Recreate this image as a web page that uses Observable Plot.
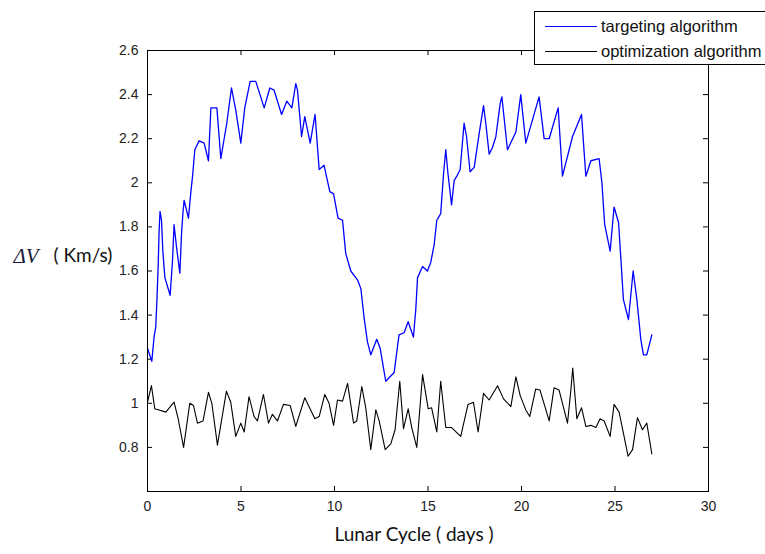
<!DOCTYPE html>
<html>
<head>
<meta charset="utf-8">
<script src="https://cdn.jsdelivr.net/npm/d3@7"></script>
<script src="https://cdn.jsdelivr.net/npm/@observablehq/plot@0.6"></script>
<style>
  html, body { margin: 0; padding: 0; overflow: hidden; background: #fff; }
  #wrap { position: relative; width: 765px; height: 554px; }
  #legend { position: absolute; left: 534px; top: 11px; width: 240px; height: 52px;
            border: 1px solid #000; background: #fff; font-family: "Liberation Sans", Arial, sans-serif;
            font-size: 16.5px; color: #111; }
  .row { position: absolute; left: 10px; height: 20px; display: flex; align-items: center; white-space: nowrap; }
  .swatch { width: 52px; height: 0; border-top: 1px solid; margin-right: 4px; }
</style>
</head>
<body>
<div id="wrap"><div id="chart"></div><div id="legend"></div></div>
<script>
// ---- data ----
const seriesNames = ["targeting algorithm", "optimization algorithm"];
const seriesColors = ["#0000ff", "#000000"];

const targetingDays = [0.00,0.23,0.35,0.44,0.50,0.57,0.62,0.67,0.75,0.82,0.93,1.21,1.34,1.42,1.55,1.73,1.82,1.90,1.96,2.19,2.32,2.41,2.53,2.76,3.03,3.26,3.39,3.71,3.92,4.24,4.49,4.72,4.99,5.20,5.49,5.79,6.24,6.54,6.77,7.17,7.45,7.72,7.93,8.02,8.24,8.41,8.70,8.96,9.18,9.44,9.75,9.95,10.19,10.43,10.60,10.87,11.23,11.41,11.58,11.76,11.94,12.26,12.44,12.74,13.19,13.45,13.72,13.94,14.22,14.35,14.44,14.71,14.97,15.15,15.33,15.47,15.68,15.83,15.95,16.07,16.26,16.40,16.54,16.72,16.93,17.06,17.25,17.47,17.73,17.97,18.09,18.27,18.45,18.63,18.86,18.95,19.25,19.70,19.96,20.23,20.94,21.21,21.48,21.96,22.19,22.73,23.21,23.44,23.71,24.15,24.30,24.45,24.74,24.95,25.19,25.31,25.45,25.72,25.97,26.17,26.38,26.52,26.70,26.97];
const targetingDV = [1.25,1.19,1.30,1.345,1.46,1.62,1.78,1.87,1.83,1.69,1.57,1.49,1.65,1.81,1.71,1.59,1.77,1.87,1.92,1.84,1.96,2.03,2.15,2.19,2.18,2.10,2.34,2.34,2.11,2.27,2.43,2.33,2.18,2.34,2.46,2.46,2.34,2.43,2.42,2.31,2.37,2.34,2.45,2.42,2.21,2.30,2.18,2.31,2.06,2.08,1.96,1.95,1.84,1.83,1.68,1.60,1.56,1.52,1.39,1.28,1.22,1.29,1.25,1.10,1.14,1.31,1.32,1.37,1.30,1.43,1.57,1.62,1.60,1.64,1.72,1.83,1.86,2.04,2.15,2.04,1.90,2.01,2.03,2.06,2.27,2.21,2.05,2.07,2.22,2.35,2.27,2.13,2.16,2.21,2.36,2.39,2.15,2.23,2.40,2.18,2.39,2.20,2.20,2.34,2.03,2.21,2.31,2.03,2.10,2.11,2.00,1.81,1.69,1.89,1.82,1.66,1.47,1.38,1.60,1.47,1.29,1.22,1.22,1.31];

const optimizationDays = [0.00,0.21,0.39,0.62,0.98,1.42,1.64,1.93,2.26,2.46,2.67,2.97,3.26,3.44,3.74,4.22,4.45,4.72,4.99,5.17,5.43,5.70,5.88,6.20,6.47,6.68,6.95,7.27,7.63,7.93,8.41,8.95,9.18,9.48,9.71,9.95,10.16,10.43,10.70,11.02,11.19,11.46,11.67,11.94,12.21,12.39,12.71,13.01,13.24,13.49,13.69,13.94,14.13,14.40,14.71,15.01,15.19,15.47,15.68,15.95,16.26,16.75,17.14,17.43,17.68,17.97,18.27,18.72,19.04,19.43,19.70,19.93,20.23,20.44,20.76,20.99,21.48,21.74,22.01,22.46,22.64,22.74,22.96,23.21,23.44,23.71,23.98,24.20,24.42,24.74,24.95,25.22,25.70,25.94,26.20,26.47,26.70,26.97];
const optimizationDV = [1.005,1.08,0.975,0.97,0.96,1.005,0.93,0.80,1.00,0.99,0.91,0.92,1.05,1.00,0.81,1.055,1.005,0.85,0.91,0.87,1.03,0.94,0.92,1.04,0.91,0.95,0.92,0.995,0.99,0.895,1.025,0.93,0.94,1.04,1.00,0.90,1.015,1.01,1.09,0.91,0.92,1.076,0.98,0.79,0.97,0.92,0.79,0.816,0.88,1.10,0.885,0.975,0.89,0.80,1.13,0.975,0.98,0.87,1.10,0.89,0.89,0.85,0.995,1.005,0.87,1.045,1.015,1.08,1.02,0.985,1.12,1.035,0.97,0.94,1.065,1.06,0.92,1.07,1.06,0.91,1.06,1.16,0.93,0.98,0.895,0.90,0.89,0.93,0.92,0.85,0.995,0.96,0.76,0.79,0.935,0.88,0.91,0.77];

const xTicks = [0, 5, 10, 15, 20, 25, 30];
const yTicks = [0.8, 1.0, 1.2, 1.4, 1.6, 1.8, 2.0, 2.2, 2.4, 2.6];
const xDomain = [0, 30];
const yDomain = [0.6, 2.6];
const xLabel = "Lunar Cycle ( days )";
const yLabelSymbol = "ΔV";
const yLabelUnit = "( Km/s)";

// ---- build ----
const targeting = targetingDays.map((d, i) => ({day: d, dv: targetingDV[i]}));
const optimization = optimizationDays.map((d, i) => ({day: d, dv: optimizationDV[i]}));

const mL = 147, mR = 57, mT = 50, mB = 63, W = 765, H = 554;
const pxPerX = (W - mL - mR) / (xDomain[1] - xDomain[0]);
const pxPerY = (H - mT - mB) / (yDomain[1] - yDomain[0]);
const tick = 5;

const chart = Plot.plot({
  width: W, height: H,
  marginLeft: mL, marginRight: mR, marginTop: mT, marginBottom: mB,
  x: {domain: xDomain},
  y: {domain: yDomain},
  style: {fontFamily: "'Liberation Sans', Arial, sans-serif", fontSize: "14px", color: "#222", background: "#fff"},
  marks: [
    Plot.axisX(xTicks, {tickSize: 0, tickPadding: 10, fontSize: 14, tickFormat: d => String(d), label: null}),
    Plot.axisY(yTicks, {tickSize: 0, tickPadding: 9, fontSize: 14, tickFormat: d => String(+d.toFixed(1)), label: null}),
    Plot.ruleX(xTicks, {x: d => d, y1: yDomain[0], y2: yDomain[0] + tick / pxPerY, stroke: "#000"}),
    Plot.ruleX(xTicks, {x: d => d, y1: yDomain[1], y2: yDomain[1] - tick / pxPerY, stroke: "#000"}),
    Plot.ruleY(yTicks, {y: d => d, x1: xDomain[0], x2: xDomain[0] + tick / pxPerX, stroke: "#000"}),
    Plot.ruleY(yTicks, {y: d => d, x1: xDomain[1], x2: xDomain[1] - tick / pxPerX, stroke: "#000"}),
    Plot.line(targeting, {x: "day", y: "dv", stroke: seriesColors[0], strokeWidth: 1.3}),
    Plot.line(optimization, {x: "day", y: "dv", stroke: seriesColors[1], strokeWidth: 1.1}),
    Plot.frame({stroke: "#000"}),
    Plot.text([xLabel], {text: d => d, frameAnchor: "bottom", dx: -14, dy: 49,
      fontFamily: "Lato, 'Open Sans', sans-serif", fontSize: 19, fill: "#111"}),
    Plot.text([yLabelSymbol], {text: d => d, frameAnchor: "left", textAnchor: "start", dx: -134, dy: -15,
      fontFamily: "'Liberation Serif', 'DejaVu Serif', serif", fontStyle: "italic", fontSize: 21, fill: "#1a1a3a"}),
    Plot.text([yLabelUnit], {text: d => d, frameAnchor: "left", textAnchor: "start", dx: -94, dy: -15,
      fontFamily: "Lato, 'Open Sans', sans-serif", fontSize: 19, fill: "#111"})
  ]
});
document.getElementById("chart").appendChild(chart);

const legend = document.getElementById("legend");
seriesNames.forEach((name, i) => {
  const row = document.createElement("div");
  row.className = "row";
  row.style.top = (4 + i * 25) + "px";
  const sw = document.createElement("div");
  sw.className = "swatch";
  sw.style.borderTopColor = seriesColors[i];
  const label = document.createElement("span");
  label.textContent = name;
  row.appendChild(sw);
  row.appendChild(label);
  legend.appendChild(row);
});
</script>
</body>
</html>
